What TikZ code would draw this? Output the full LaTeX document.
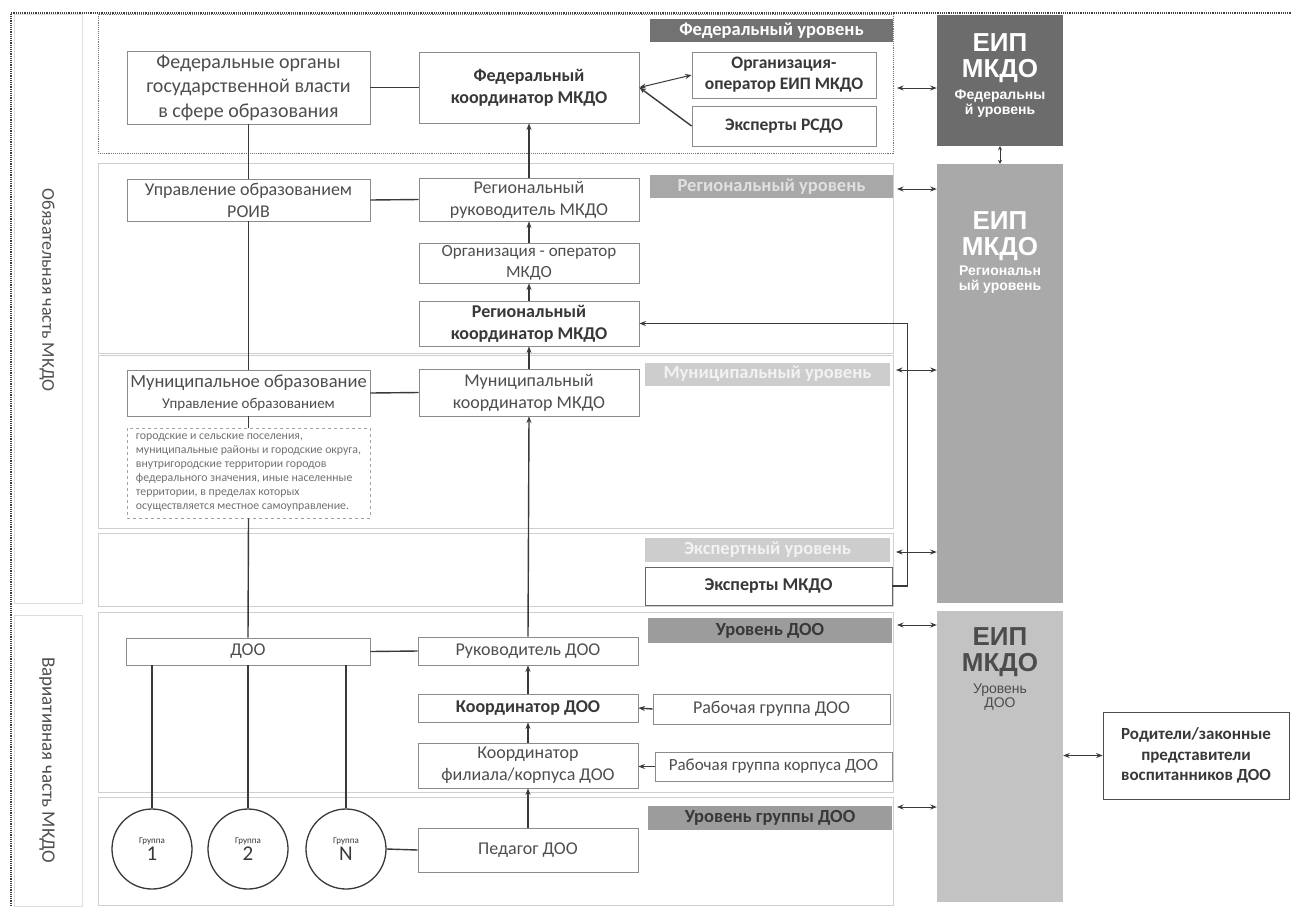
\documentclass[tikz,border=0pt]{standalone}
\usepackage{fontspec}
\setmainfont{Carlito}
\newfontfamily\arialf{Liberation Sans}
\usetikzlibrary{arrows.meta,calc}
\definecolor{txt}{HTML}{4E4E4E}
\definecolor{btxt}{HTML}{383838}
\definecolor{bordc}{HTML}{8C8C8C}
\definecolor{panc}{HTML}{CFCFCF}
\definecolor{linec}{HTML}{3A3A3A}
\definecolor{hdF}{HTML}{727272}
\definecolor{hdR}{HTML}{A8A8A8}
\definecolor{hdM}{HTML}{CDCDCD}
\definecolor{hdD}{HTML}{9C9C9C}
\definecolor{eipFc}{HTML}{6C6C6C}
\definecolor{eipRc}{HTML}{A9A9A9}
\definecolor{eipDc}{HTML}{C3C3C3}
\begin{document}
\begin{tikzpicture}[x=1pt,y=-1pt,
  box/.style={draw=bordc, line width=0.8pt, fill=white, text=txt, align=center, inner sep=0pt,
    font=\fontsize{18}{22}\selectfont},
  bbox/.style={box, text=btxt, font=\fontsize{18}{22}\selectfont\bfseries},
  panel/.style={draw=panc, line width=0.9pt, inner sep=0pt, minimum width=795pt},
  lcol/.style={draw=panc!70, line width=0.9pt, inner sep=0pt, minimum width=68pt},
  hdr/.style={inner sep=0pt, minimum width=243pt, minimum height=23pt,
    font=\fontsize{18.5}{20}\selectfont\bfseries},
  eip/.style={inner sep=0pt, minimum width=126pt},
  eipt/.style={inner sep=0pt, align=center, font=\arialf\bfseries\fontsize{26}{26}\selectfont},
  grp/.style={circle, draw=linec, line width=1.3pt, fill=white, minimum size=80pt, inner sep=0pt,
    align=center, text=btxt},
  conn/.style={draw=linec, line width=1.4pt},
  arr/.style={conn, -{Stealth[length=6.5pt,width=5pt]}},
  darr/.style={conn, line width=1pt, {Stealth[length=6.5pt,width=5pt]}-{Stealth[length=6.5pt,width=5pt]}},
]
\useasboundingbox (0,0) rectangle (1291,906);
\fill[white] (0,0) rectangle (1291,906);

% outer dotted frame
\draw[densely dotted, line width=1.2pt, black!75] (11,906) -- (11,13) -- (1291,13);

% left column
\node[lcol, minimum height=589pt] (lc1) at (48,308.5) {};
\node[lcol, minimum height=291pt] (lc2) at (48,760.5) {};
\node[rotate=-90, text=txt, font=\fontsize{18}{20}\selectfont] (lab1) at (47,290) {Обязательная часть МКДО};
\node[rotate=-90, text=txt, font=\fontsize{19}{20}\selectfont] (lab2) at (47,760) {Вариативная часть МКДО};

% level panels
\node[panel, draw=black!55, densely dotted, minimum height=139pt] (pF) at (495.5,83.5) {};
\node[panel, minimum height=190pt] (pR) at (495.5,258) {};
\node[panel, minimum height=173pt] (pM) at (495.5,441.5) {};
\node[panel, minimum height=73pt] (pE) at (495.5,569.5) {};
\node[panel, minimum height=180pt] (pD) at (495.5,702) {};
\node[panel, minimum height=108pt] (pG) at (495.5,851) {};

% level headers
\node[hdr, fill=hdF, text=white] (hF) at (771.5,30.5) {Федеральный уровень};
\node[hdr, fill=hdR, text=white!88!black] (hR) at (771.5,186.5) {Региональный уровень};
\node[hdr, fill=hdM, text=white!95!black, minimum width=245pt] (hM) at (767.5,374) {Муниципальный уровень};
\node[hdr, fill=hdM, text=white!95!black, minimum width=245pt, minimum height=24pt] (hE) at (767.5,550) {Экспертный уровень};
\node[hdr, fill=hdD, text=btxt, minimum width=244pt, minimum height=25pt] (hD) at (770,630.5) {Уровень ДОО};
\node[hdr, fill=hdD, text=btxt, minimum width=244pt, minimum height=24pt] (hG) at (770,818) {Уровень группы ДОО};

% federal level
\node[box, minimum width=243pt, minimum height=73pt, font=\fontsize{20}{24.5}\selectfont] (fedorg) at (248.5,87.5)
  {Федеральные органы\\государственной власти\\в сфере образования};
\node[bbox, minimum width=220pt, minimum height=71pt] (fedcoord) at (529,87.5) {Федеральный\\координатор МКДО};
\node[bbox, minimum width=184pt, minimum height=46pt, font=\fontsize{17.5}{21}\selectfont\bfseries] (orgop) at (784,75) {Организация-\\оператор ЕИП МКДО};
\node[bbox, minimum width=184pt, minimum height=40pt, font=\fontsize{17.5}{21}\selectfont\bfseries] (rsdo) at (784,126) {Эксперты РСДО};

% regional level
\node[box, minimum width=243pt, minimum height=42pt] (roiv) at (248.5,200) {Управление образованием\\РОИВ};
\node[box, minimum width=220pt, minimum height=43pt] (regruk) at (529,199.5) {Региональный\\руководитель МКДО};
\node[box, minimum width=220pt, minimum height=40pt, font=\fontsize{17}{21}\selectfont] (orgmkdo) at (529,263) {Организация - оператор\\МКДО};
\node[bbox, minimum width=220pt, minimum height=45pt] (regcoord) at (529,323.5) {Региональный\\координатор МКДО};

% municipal level
\node[box, minimum width=243pt, minimum height=46pt, font=\fontsize{18.5}{21}\selectfont] (mun) at (248.5,393)
  {Муниципальное образование\\\fontsize{15}{17}\selectfont Управление образованием};
\node[box, draw=bordc!80, dashed, minimum width=243pt, minimum height=90pt, align=left, text=txt!80,
  font=\fontsize{11.8}{14}\selectfont] (desc) at (248.5,473)
  {городские и сельские поселения,\\муниципальные районы и городские округа,\\внутригородские территории городов\\федерального значения, иные населенные\\территории, в пределах которых\\осуществляется местное самоуправление.};
\node[box, minimum width=220pt, minimum height=47pt] (muncoord) at (529,392.5) {Муниципальный\\координатор МКДО};

% expert level
\node[bbox, draw=black!60, minimum width=247pt, minimum height=38pt] (expmkdo) at (768.5,586) {Эксперты МКДО};

% DOO level
\node[box, minimum width=244pt, minimum height=27pt] (doo) at (248,651.5) {ДОО};
\node[box, minimum width=220pt, minimum height=28pt] (ruk) at (528,651) {Руководитель ДОО};
\node[bbox, minimum width=220pt, minimum height=28pt] (koord) at (528,708) {Координатор ДОО};
\node[box, minimum width=237pt, minimum height=30pt] (rg) at (771.5,709) {Рабочая группа ДОО};
\node[box, minimum width=220pt, minimum height=45pt] (koordf) at (528,765.5) {Координатор\\филиала/корпуса ДОО};
\node[box, minimum width=237pt, minimum height=29pt, font=\fontsize{17}{20}\selectfont] (rgk) at (773.5,766.5) {Рабочая группа корпуса ДОО};

% group level
\node[grp] (g1) at (152,849) {\fontsize{9}{10}\selectfont Группа\\[1pt]\fontsize{21}{20}\selectfont 1};
\node[grp] (g2) at (248,849) {\fontsize{9}{10}\selectfont Группа\\[1pt]\fontsize{21}{20}\selectfont 2};
\node[grp] (gN) at (346,849) {\fontsize{9}{10}\selectfont Группа\\[1pt]\fontsize{21}{20}\selectfont N};
\node[box, minimum width=220pt, minimum height=44pt] (ped) at (528,850) {Педагог ДОО};

% EIP column
\node[eip, fill=eipFc, minimum height=131pt] (eipF) at (1000,80.5) {};
\node[eip, fill=eipRc, minimum height=439pt] (eipR) at (1000,383.5) {};
\node[eip, fill=eipDc, minimum height=291pt] (eipD) at (1000,756.5) {};
\node[eipt, text=white, anchor=north] (eipFt) at (1000,33)
  {ЕИП\\МКДО\\[-4pt]\fontsize{14}{14}\selectfont Федеральны\\[-11pt]\fontsize{14}{14}\selectfont й уровень};
\node[eipt, text=white, anchor=north] (eipRt) at (1000,211)
  {ЕИП\\МКДО\\[-6pt]\fontsize{14}{14}\selectfont Региональн\\[-11pt]\fontsize{14}{14}\selectfont ый уровень};
\node[eipt, text=black!70, anchor=north] (eipDt) at (1000,627)
  {ЕИП\\МКДО\\[-4pt]\fontsize{14}{14}\selectfont\mdseries Уровень\\[-12pt]\fontsize{14}{14}\selectfont\mdseries ДОО};

% parents
\node[bbox, draw=black!70, minimum width=186pt, minimum height=87pt, font=\fontsize{17}{20.5}\selectfont\bfseries] (parents) at (1196,755.5)
  {Родители/законные\\представители\\воспитанников ДОО};

% connectors federal
\draw[conn] (fedorg.east) -- (fedcoord.west);
\draw[darr] (fedcoord.east) -- (orgop.west);
\draw[arr] (rsdo.west) -- (fedcoord.east);
\draw[arr] (regruk.north) -- (fedcoord.south);

% vertical line on the left
\draw[conn] (fedorg.south) -- (roiv.north);
\draw[conn] (roiv.south) -- (mun.north);
\draw[conn] (mun.south) -- (desc.north);
\draw[conn] (desc.south) -- (doo.north);

% regional / municipal
\draw[conn] (roiv.east) -- (regruk.west);
\draw[arr] (orgmkdo.north) -- (regruk.south);
\draw[arr] (regcoord.north) -- (orgmkdo.south);
\draw[arr] (muncoord.north) -- (regcoord.south);
\draw[conn] (mun.east) -- (muncoord.west);
\draw[arr] (ruk.north) -- (muncoord.south);
\draw[arr] (expmkdo.east) -- ++(15,0) |- (regcoord.east);

% DOO level
\draw[conn] (doo.east) -- (ruk.west);
\draw[arr] (koord.north) -- (ruk.south);
\draw[arr] (koordf.north) -- (koord.south);
\draw[arr] (ped.north) -- (koordf.south);
\draw[arr] (rg.west) -- (koord.east);
\draw[arr] (rgk.west) -- (rgk.west -| koordf.east);
\draw[conn] (g1.north |- doo.south) -- (g1.north);
\draw[conn] (g2.north |- doo.south) -- (g2.north);
\draw[conn] (gN.north |- doo.south) -- (gN.north);
\draw[conn] (gN.east) -- (ped.west);

% links to EIP
\coordinate (aF) at (897,88);
\coordinate (aR) at (897,189);
\coordinate (aM) at (896,370);
\coordinate (aE) at (896,552);
\coordinate (aD) at (897,625);
\coordinate (aG) at (897,807);
\draw[darr] (aF) -- (aF -| eipF.west);
\draw[darr] (aR) -- (aR -| eipR.west);
\draw[darr] (aM) -- (aM -| eipR.west);
\draw[darr] (aE) -- (aE -| eipR.west);
\draw[darr] (aD) -- (aD -| eipD.west);
\draw[darr] (aG) -- (aG -| eipD.west);
\draw[darr, line width=0.8pt, {Stealth[length=4pt,width=4pt]}-{Stealth[length=4pt,width=4pt]}] (eipF.south) -- (eipR.north);
\draw[darr] (eipD.east |- parents.west) -- (parents.west);
\end{tikzpicture}
\end{document}
